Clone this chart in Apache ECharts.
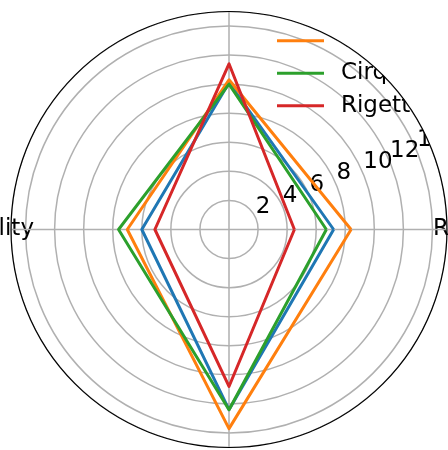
<!DOCTYPE html>
<html><head><meta charset="utf-8">
<script src="https://cdn.jsdelivr.net/npm/echarts@6/dist/echarts.min.js"></script>
<style>html,body{margin:0;padding:0;background:#fff}#c{width:448px;height:450px}</style>
</head><body><div id="c"></div>
<script>
const axesNames = ['Reliability', 'Performance', 'Usability', 'Community'];
const seriesNames = ['Qiskit', 'Q#', 'Cirq', 'Rigetti'];
const qiskit = [7.2, 10.1, 6.0, 12.4];
const qsharp = [8.4, 10.3, 7.0, 13.7];
const cirq = [6.7, 10.0, 7.6, 12.4];
const rigetti = [4.5, 11.4, 5.1, 10.8];
const rTickLabels = [2, 4, 6, 8, 10, 12, 14];
const rMax = 15;
const colors = ['#1f77b4', '#ff7f0e', '#2ca02c', '#d62728'];

const FONT = 'DejaVu Sans';
const CX = 229, CY = 229.5, R = 218;
const N = axesNames.length;
const STEP = 360 / N;
const allSeries = [qiskit, qsharp, cirq, rigetti];
// each category i sits at angle i*STEP; repeat the first point to close the polygon
const closeLoop = vals => vals.concat([vals[0]]).map((v, i) => [v, i * STEP]);
const nameKeys = ['r', 't', 'l', 'b'];

// white mask outside the plot circle (clips legend / radial labels like the original)
const maskPts = [[470, CY], [470, 470], [-20, 470], [-20, -20], [470, -20], [470, CY]];
for (let k = 0; k <= 720; k++) {
  const a = k / 720 * Math.PI * 2;
  maskPts.push([CX + R * Math.cos(a), CY - R * Math.sin(a)]);
}

const chart = echarts.init(document.getElementById('c'), null, {renderer: 'canvas'});
chart.setOption({
  backgroundColor: '#fff',
  animation: false,
  polar: [
    {center: [CX, CY], radius: R},
    {center: [CX, CY], radius: R}
  ],
  angleAxis: [
    {
      polarIndex: 0, type: 'value', min: 0, max: 360, interval: STEP,
      startAngle: 0, clockwise: false, z: 10,
      axisLine: {lineStyle: {color: '#000', width: 1.2}},
      axisTick: {show: false},
      splitLine: {show: true, lineStyle: {color: '#b0b0b0', width: 1.5}},
      axisLabel: {
        margin: -23,
        color: '#000', fontSize: 23, fontFamily: FONT,
        formatter: v => {
          const i = Math.round(v / STEP);
          if (i >= N) return '';
          return '{' + nameKeys[i] + '|' + axesNames[i] + '}';
        },
        rich: {
          r: {fontSize: 23, fontFamily: FONT, color: '#000', padding: [0, 0, 0, 9]},
          t: {fontSize: 23, fontFamily: FONT, color: '#000', padding: [0, 0, 70, 0]},
          l: {fontSize: 23, fontFamily: FONT, color: '#000'},
          b: {fontSize: 23, fontFamily: FONT, color: '#000', padding: [70, 0, 0, 0]}
        }
      }
    },
    {polarIndex: 1, type: 'value', min: 0, max: 360, startAngle: 22.5, clockwise: false, show: false}
  ],
  radiusAxis: [
    {
      polarIndex: 0, min: 0, max: rMax, interval: 2, z: 1,
      axisLine: {show: false}, axisTick: {show: false}, axisLabel: {show: false},
      splitLine: {show: true, lineStyle: {color: '#b0b0b0', width: 1.5}}
    },
    {
      polarIndex: 1, min: 0, max: rMax, interval: 2, z: 1,
      axisLine: {show: false}, axisTick: {show: false}, splitLine: {show: false},
      axisLabel: {
        margin: 0, align: 'left', verticalAlign: 'bottom',
        fontSize: 23, lineHeight: 23, fontFamily: FONT, color: '#000',
        formatter: v => rTickLabels.indexOf(v) >= 0 ? String(v) : ''
      }
    }
  ],
  legend: {
    data: seriesNames, orient: 'vertical', left: 277, top: -3.3, padding: 0,
    itemWidth: 47, itemHeight: 3, itemGap: 9.5, icon: 'rect', z: 1,
    formatter: n => '{a|' + n + '}',
    textStyle: {
      fontSize: 23, fontFamily: FONT, color: '#000',
      rich: {a: {fontSize: 23, fontFamily: FONT, color: '#000', lineHeight: 23, padding: [0, 0, 0, 12]}}
    }
  },
  graphic: {
    elements: [{
      type: 'polygon', silent: true, z: 5,
      shape: {points: maskPts},
      style: {fill: '#fff', stroke: null}
    }]
  },
  series: allSeries.map((vals, i) => ({
    type: 'line', name: seriesNames[i], coordinateSystem: 'polar', polarIndex: 0,
    data: closeLoop(vals), symbol: 'none', z: 12,
    lineStyle: {color: colors[i], width: 3, join: 'round'},
    itemStyle: {color: colors[i]}
  }))
});
</script>
</body></html>
